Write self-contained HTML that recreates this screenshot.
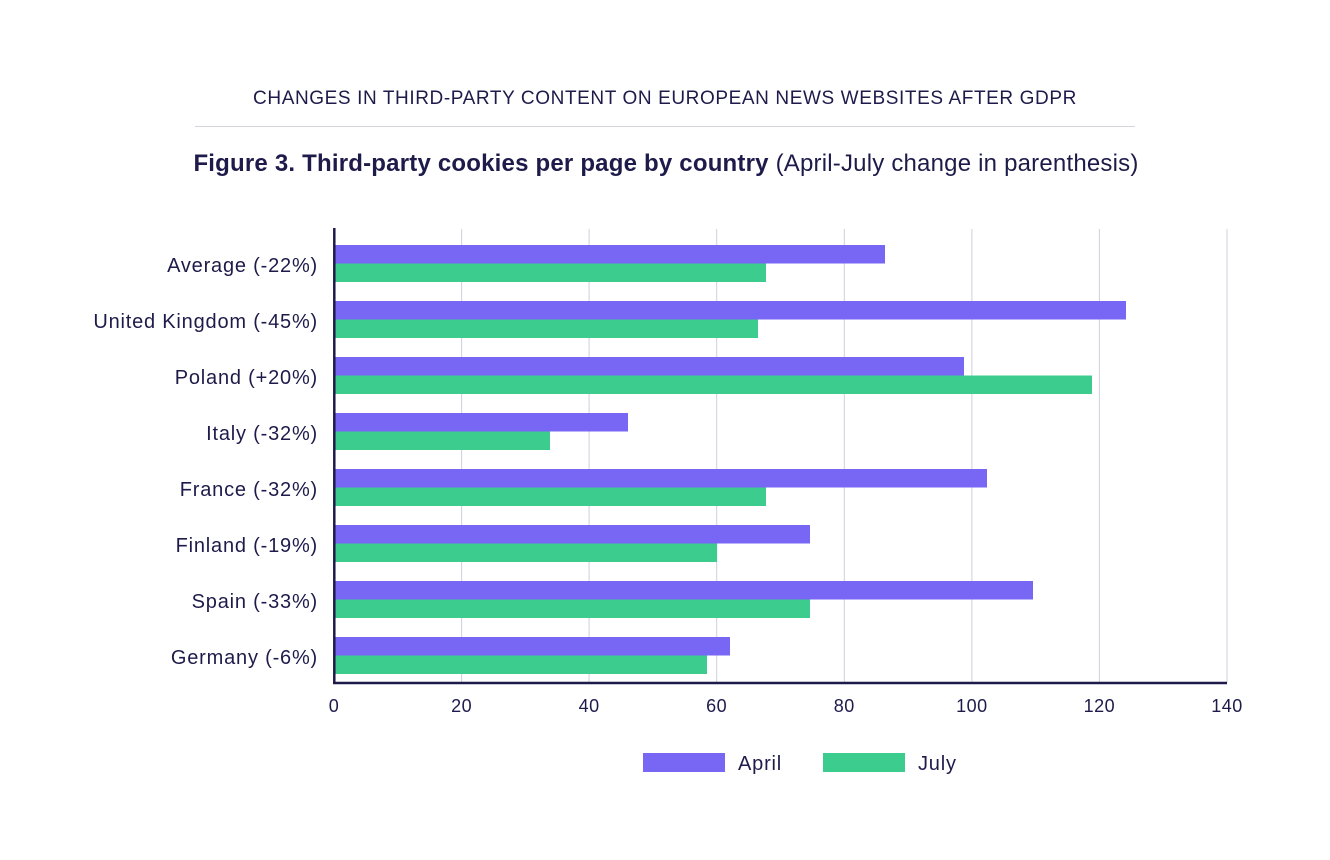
<!DOCTYPE html>
<html><head><meta charset="utf-8"><style>
html,body{margin:0;padding:0;background:#fff;}
svg{display:block;font-family:"Liberation Sans",sans-serif;}
</style></head><body>
<svg width="1330" height="860" viewBox="0 0 1330 860" xmlns="http://www.w3.org/2000/svg">
<rect width="1330" height="860" fill="#fff"/>
<text x="665" y="104" text-anchor="middle" font-size="19" letter-spacing="0.6" fill="#1e1b4b">CHANGES  IN THIRD-PARTY CONTENT ON  EUROPEAN  NEWS WEBSITES AFTER GDPR</text>
<line x1="195" y1="126.5" x2="1135" y2="126.5" stroke="#d4d4dc" stroke-width="1"/>
<text x="666" y="171" text-anchor="middle" font-size="24" letter-spacing="0.2" fill="#1e1b4b"><tspan font-weight="bold">Figure 3. Third-party cookies per page by country</tspan> (April-July change in parenthesis)</text>
<g stroke="#cfcfdc" stroke-width="1">
<line x1="461.6" y1="229" x2="461.6" y2="683"/>
<line x1="589.1" y1="229" x2="589.1" y2="683"/>
<line x1="716.7" y1="229" x2="716.7" y2="683"/>
<line x1="844.3" y1="229" x2="844.3" y2="683"/>
<line x1="971.9" y1="229" x2="971.9" y2="683"/>
<line x1="1099.4" y1="229" x2="1099.4" y2="683"/>
<line x1="1227" y1="229" x2="1227" y2="683"/>
</g>
<g>
<rect x="334" y="245" width="551" height="18.5" fill="#7866f5"/><rect x="334" y="263.5" width="432" height="18.5" fill="#3ccd8e"/>
<rect x="334" y="301" width="792" height="18.5" fill="#7866f5"/><rect x="334" y="319.5" width="424" height="18.5" fill="#3ccd8e"/>
<rect x="334" y="357" width="630" height="18.5" fill="#7866f5"/><rect x="334" y="375.5" width="758" height="18.5" fill="#3ccd8e"/>
<rect x="334" y="413" width="294" height="18.5" fill="#7866f5"/><rect x="334" y="431.5" width="216" height="18.5" fill="#3ccd8e"/>
<rect x="334" y="469" width="653" height="18.5" fill="#7866f5"/><rect x="334" y="487.5" width="432" height="18.5" fill="#3ccd8e"/>
<rect x="334" y="525" width="476" height="18.5" fill="#7866f5"/><rect x="334" y="543.5" width="383" height="18.5" fill="#3ccd8e"/>
<rect x="334" y="581" width="699" height="18.5" fill="#7866f5"/><rect x="334" y="599.5" width="476" height="18.5" fill="#3ccd8e"/>
<rect x="334" y="637" width="396" height="18.5" fill="#7866f5"/><rect x="334" y="655.5" width="373" height="18.5" fill="#3ccd8e"/>
</g>
<line x1="334.3" y1="228" x2="334.3" y2="684" stroke="#1e1b4b" stroke-width="2.5"/>
<line x1="333" y1="683" x2="1227" y2="683" stroke="#1e1b4b" stroke-width="2.5"/>
<g font-size="20" letter-spacing="0.8" fill="#1e1b4b" text-anchor="end">
<text x="318" y="272">Average (-22%)</text>
<text x="318" y="328">United Kingdom (-45%)</text>
<text x="318" y="384">Poland (+20%)</text>
<text x="318" y="440">Italy (-32%)</text>
<text x="318" y="496">France (-32%)</text>
<text x="318" y="552">Finland (-19%)</text>
<text x="318" y="608">Spain (-33%)</text>
<text x="318" y="664">Germany (-6%)</text>
</g>
<g font-size="18" letter-spacing="0.5" fill="#1e1b4b" text-anchor="middle">
<text x="334" y="712">0</text><text x="461.6" y="712">20</text><text x="589.1" y="712">40</text><text x="716.7" y="712">60</text><text x="844.3" y="712">80</text><text x="971.9" y="712">100</text><text x="1099.4" y="712">120</text><text x="1227" y="712">140</text>
</g>
<rect x="643" y="753" width="82" height="19" fill="#7866f5"/>
<text x="738" y="770" font-size="20" letter-spacing="0.8" fill="#1e1b4b">April</text>
<rect x="823" y="753" width="82" height="19" fill="#3ccd8e"/>
<text x="918" y="770" font-size="20" letter-spacing="0.8" fill="#1e1b4b">July</text>
</svg>
</body></html>
